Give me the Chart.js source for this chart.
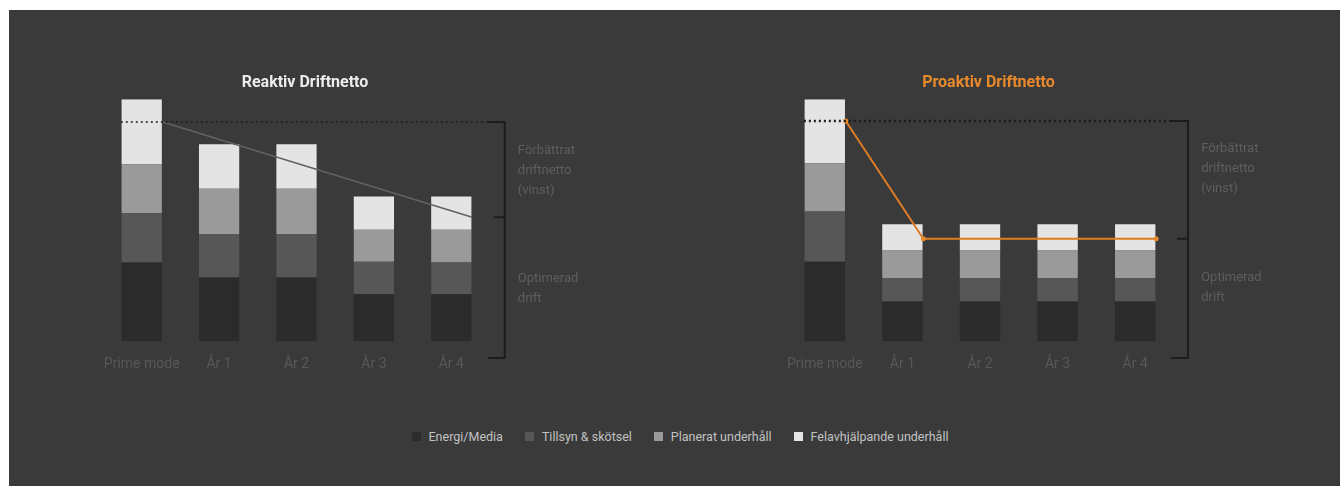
<!DOCTYPE html>
<html>
<head>
<meta charset="utf-8">
<script src="https://cdn.jsdelivr.net/npm/chart.js@4/dist/chart.umd.min.js"></script>
<style>
  body { margin: 0; background: #fff; width: 1340px; height: 486px; overflow: hidden; font-family: Roboto, "DejaVu Sans", sans-serif; }
  #panel { position: absolute; left: 9px; top: 10px; width: 1331px; height: 476px; background: #3a3a3a; }
  .chartbox { position: absolute; top: 50px; width: 560px; height: 346px; }
  #left { left: 60px; }
  #right { left: 740px; }
  #legend { position: absolute; left: 10px; width: 1340px; top: 429px; display: flex; justify-content: center; gap: 22px; font-size: 12.5px; color: #c2c2c2; }
  #legend span { display: flex; align-items: center; }
  #legend i { display: inline-block; width: 9px; height: 9px; margin-right: 8px; }
</style>
</head>
<body>
<div id="panel"></div>
<div class="chartbox" id="left"><canvas id="reaktiv" width="560" height="346"></canvas></div>
<div class="chartbox" id="right"><canvas id="proaktiv" width="560" height="346"></canvas></div>
<div id="legend"></div>
<script>
// data (values as % of Prime mode total)
const categories = ["Prime mode", "År 1", "År 2", "År 3", "År 4"];
const seriesNames = ["Energi/Media", "Tillsyn & skötsel", "Planerat underhåll", "Felavhjälpande underhåll"];
const seriesColors = ["#2b2b2b", "#575757", "#9a9a9a", "#e4e4e4"];

const reaktivEnergi = [32.5, 26.3, 26.3, 19.4, 19.4];
const reaktivTillsyn = [20.4, 18.0, 18.0, 13.4, 13.1];
const reaktivPlanerat = [20.2, 18.7, 18.7, 13.3, 13.6];
const reaktivFel = [26.9, 18.4, 18.4, 13.7, 13.7];

const proaktivEnergi = [32.8, 16.4, 16.4, 16.4, 16.4];
const proaktivTillsyn = [20.8, 9.7, 9.7, 9.7, 9.7];
const proaktivPlanerat = [19.9, 11.4, 11.4, 11.4, 11.4];
const proaktivFel = [26.5, 10.8, 10.8, 10.8, 10.8];

// trend lines (x in category units, from bar edge to bar edge)
const reaktivLineX = [0.27, 4.27];
const reaktivLineY = [90.6, 51.2];
const proaktivLineX = [0.27, 1.27, 4.27];
const proaktivLineY = [91.0, 42.3, 42.3];

// bracket levels: top, middle, bottom
const reaktivBracket = [90.6, 51.2, -6.9];
const proaktivBracket = [91.0, 42.3, -6.9];

const noteUpper = ["Förbättrat", "driftnetto", "(vinst)"];
const noteLower = ["Optimerad", "drift"];

//bracket + dotted level + side notes
const bracketPlugin = {
  id: "bracket",
  afterDatasetsDraw(chart, args, opts) {
    const ctx = chart.ctx;
    const xs = chart.scales.x;
    const ys = chart.scales.y;
    const xb = xs.getPixelForValue(opts.x);
    const yTop = ys.getPixelForValue(opts.levels[0]);
    const yMid = ys.getPixelForValue(opts.levels[1]);
    const yBot = ys.getPixelForValue(opts.levels[2]);
    ctx.save();
    ctx.strokeStyle = "#1c1c1c";
    ctx.lineWidth = opts.dotWidth;
    ctx.setLineDash([2, 3]);
    ctx.beginPath();
    ctx.moveTo(xs.getPixelForValue(-0.27), yTop);
    ctx.lineTo(xs.getPixelForValue(opts.x - 0.22), yTop);
    ctx.stroke();
    ctx.setLineDash([]);
    ctx.lineWidth = 2;
    ctx.beginPath();
    ctx.moveTo(xs.getPixelForValue(opts.x - 0.22), yTop);
    ctx.lineTo(xb, yTop);
    ctx.lineTo(xb, yBot);
    ctx.lineTo(xs.getPixelForValue(opts.x - 0.22), yBot);
    ctx.moveTo(xs.getPixelForValue(opts.x - 0.14), yMid);
    ctx.lineTo(xb, yMid);
    ctx.stroke();
    ctx.fillStyle = "#5e5e5e";
    ctx.font = "13px Roboto";
    ctx.textBaseline = "middle";
    const tx = xs.getPixelForValue(opts.x + 0.17);
    noteUpper.forEach((t, i) => ctx.fillText(t, tx, ys.getPixelForValue(opts.upperAt) + i * 20));
    noteLower.forEach((t, i) => ctx.fillText(t, tx, ys.getPixelForValue(opts.lowerAt) + i * 20));
    ctx.restore();
  }
};

function makeChart(id, title, titleColor, stacks, lineX, lineY, lineOpts, bracket) {
  const barSets = stacks.map((vals, i) => ({
    label: seriesNames[i],
    data: vals.map((v, j) => ({ x: j, y: v })),
    backgroundColor: seriesColors[i],
    borderWidth: 0,
    barPercentage: 1,
    categoryPercentage: 0.52,
    stack: "s",
    order: 1,
  }));
  const line = Object.assign({
    type: "line",
    label: "trend",
    data: lineX.map((x, i) => ({ x: x, y: lineY[i] })),
    fill: false,
    tension: 0,
    stack: "line",
    order: 0,
  }, lineOpts);
  return new Chart(document.getElementById(id), {
    type: "bar",
    data: { datasets: barSets.concat([line]) },
    plugins: [bracketPlugin],
    options: {
      responsive: false,
      animation: false,
      events: [],
      layout: { padding: bracket.padding },
      scales: {
        x: {
          type: "linear",
          min: -0.5,
          max: 4.5,
          offset: false,
          stacked: true,
          grid: { display: false, drawTicks: false, offset: false },
          border: { display: false },
          afterBuildTicks: (axis) => { axis.ticks = categories.map((c, i) => ({ value: i })); },
          ticks: {
            color: "#585858",
            font: { family: "Roboto", size: 14 },
            padding: 15,
            maxRotation: 0,
            autoSkip: false,
            callback: (v) => categories[v],
          },
        },
        y: {
          stacked: true,
          position: "right",
          min: 0,
          max: 100,
          grid: { display: false, drawTicks: false },
          border: { display: false },
          ticks: { display: false },
          afterFit: (axis) => { axis.width = 17; },
        },
      },
      plugins: {
        legend: { display: false },
        tooltip: { enabled: false },
        title: {
          display: true,
          text: title,
          color: titleColor,
          font: { family: "Roboto", size: 16, weight: "bold" },
          padding: { top: 23, bottom: 7 },
        },
        bracket: bracket,
      },
    },
  });
}

makeChart("reaktiv", "Reaktiv Driftnetto", "#ececec",
  [reaktivEnergi, reaktivTillsyn, reaktivPlanerat, reaktivFel],
  reaktivLineX, reaktivLineY,
  { borderColor: "#626262", borderWidth: 1.5, pointRadius: 0 },
  { x: 4.69, levels: reaktivBracket, dotWidth: 1.5, upperAt: 78.9, lowerAt: 25.6,
    padding: { left: 43, right: 113, top: 0, bottom: 8 } });

makeChart("proaktiv", "Proaktiv Driftnetto", "#e8892b",
  [proaktivEnergi, proaktivTillsyn, proaktivPlanerat, proaktivFel],
  proaktivLineX, proaktivLineY,
  { borderColor: "#dc7d26", borderWidth: 2, pointRadius: 2.5, pointBackgroundColor: "#e8892b", pointBorderWidth: 0 },
  { x: 4.68, levels: proaktivBracket, dotWidth: 2.5, upperAt: 79.6, lowerAt: 26.3,
    padding: { left: 46, right: 109, top: 0, bottom: 8 } });

//legend
const legend = document.getElementById("legend");
seriesNames.forEach((name, i) => {
  const item = document.createElement("span");
  item.innerHTML = '<i style="background:' + seriesColors[i] + '"></i>' + name;
  legend.appendChild(item);
});
</script>
</body>
</html>
